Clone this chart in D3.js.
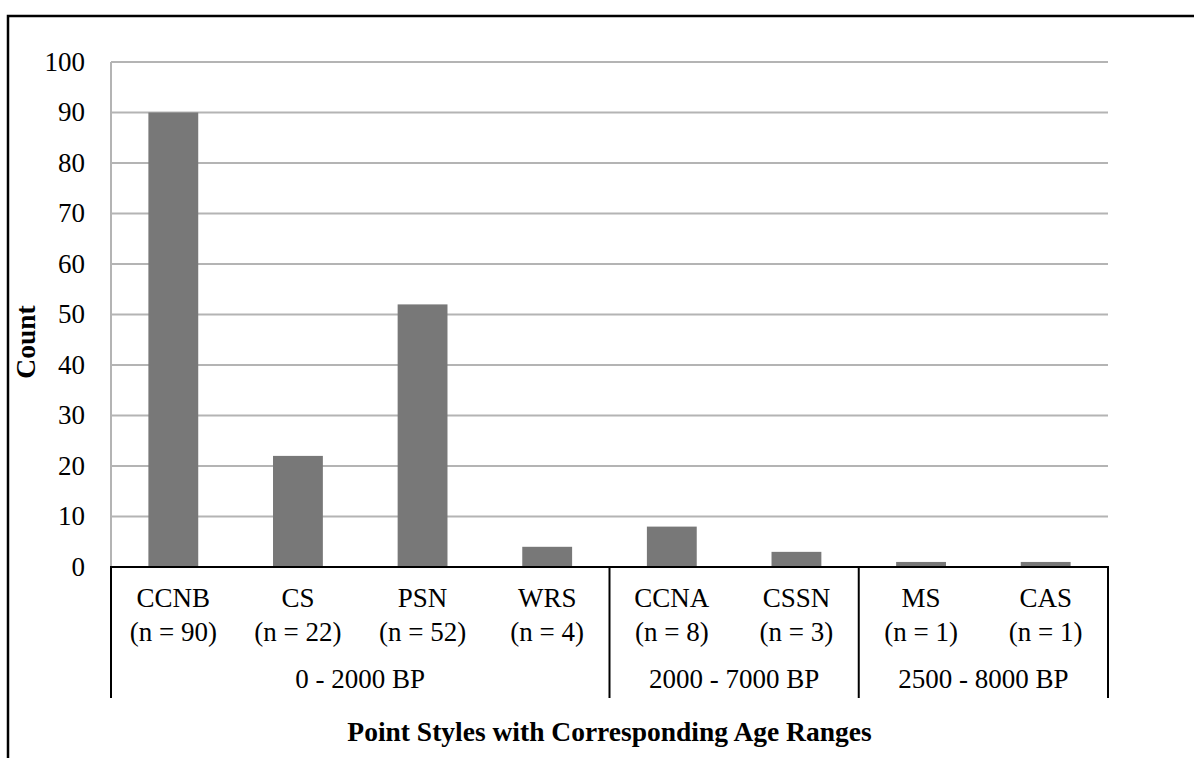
<!DOCTYPE html>
<html>
<head>
<meta charset="utf-8">
<script src="https://cdn.jsdelivr.net/npm/d3@7"></script>
<style>
  body { margin: 0; background: #fff; }
  text { font-family: 'Liberation Serif', 'Times New Roman', serif; fill: #000; }
</style>
</head>
<body>
<div id="vizcontainer"></div>
<script>
// values
const categories = ['CCNB', 'CS', 'PSN', 'WRS', 'CCNA', 'CSSN', 'MS', 'CAS'];
const counts = [90, 22, 52, 4, 8, 3, 1, 1];
const ageRanges = ['0 - 2000 BP', '2000 - 7000 BP', '2500 - 8000 BP'];
const ageOfCategory = [0, 0, 0, 0, 1, 1, 2, 2];
const yTicks = [0, 10, 20, 30, 40, 50, 60, 70, 80, 90, 100];

const
  W = 1194,
  H = 758,
  plotLeft = 111,
  plotRight = 1108,
  plotTop = 62,
  plotBottom = 567,
  axisBottom = 698,
  fontSize = 27
  ;

const svg = d3.select('#vizcontainer')
  .append('svg')
  .attr('width', W)
  .attr('height', H);

// outer frame (runs off the right and bottom edge)
svg.append('rect')
  .attr('x', 8)
  .attr('y', 16)
  .attr('width', W)
  .attr('height', H)
  .attr('fill', 'none')
  .attr('stroke', '#000')
  .attr('stroke-width', 2.5);

const x = d3.scaleBand()
  .domain(categories)
  .range([plotLeft, plotRight])
  .paddingInner(0.6)
  .paddingOuter(0.3);

const y = d3.scaleLinear()
  .domain([0, 100])
  .range([plotBottom, plotTop]);

// gridlines
svg.append('g')
  .selectAll('line')
  .data(yTicks.filter(d => d > 0))
  .join('line')
  .attr('x1', plotLeft)
  .attr('x2', plotRight)
  .attr('y1', d => y(d))
  .attr('y2', d => y(d))
  .attr('stroke', '#b4b4b4')
  .attr('stroke-width', 2);

// value axis line (grey)
svg.append('line')
  .attr('x1', plotLeft).attr('x2', plotLeft)
  .attr('y1', plotTop).attr('y2', plotBottom)
  .attr('stroke', '#b4b4b4')
  .attr('stroke-width', 2);

// y tick labels
svg.append('g')
  .selectAll('text')
  .data(yTicks)
  .join('text')
  .attr('x', 85)
  .attr('y', d => y(d))
  .attr('dy', '0.33em')
  .attr('text-anchor', 'end')
  .style('font-size', fontSize + 'px')
  .text(d => d);

// bars
svg.append('g')
  .selectAll('rect')
  .data(counts)
  .join('rect')
  .attr('x', (d, i) => x(categories[i]))
  .attr('y', d => y(d))
  .attr('width', x.bandwidth())
  .attr('height', d => y(0) - y(d))
  .attr('fill', '#787878');

// category axis
svg.append('line')
  .attr('x1', plotLeft - 1).attr('x2', plotRight + 1)
  .attr('y1', plotBottom).attr('y2', plotBottom)
  .attr('stroke', '#000')
  .attr('stroke-width', 2);

// group separators
const step = x.step();
const boundaries = [plotLeft];
ageRanges.forEach((g, gi) => {
  const last = ageOfCategory.lastIndexOf(gi);
  boundaries.push(plotLeft + step * (last + 1));
});

svg.append('g')
  .selectAll('line')
  .data(boundaries)
  .join('line')
  .attr('x1', d => d).attr('x2', d => d)
  .attr('y1', plotBottom).attr('y2', axisBottom)
  .attr('stroke', '#000')
  .attr('stroke-width', 2);

// category labels
const catG = svg.append('g')
  .selectAll('g')
  .data(categories)
  .join('g')
  .attr('transform', d => `translate(${x(d) + x.bandwidth() / 2},0)`);

catG.append('text')
  .attr('y', 607)
  .attr('text-anchor', 'middle')
  .style('font-size', fontSize + 'px')
  .text(d => d);

catG.append('text')
  .attr('y', 641)
  .attr('text-anchor', 'middle')
  .style('font-size', fontSize + 'px')
  .text((d, i) => `(n = ${counts[i]})`);

// age range labels
svg.append('g')
  .selectAll('text')
  .data(ageRanges)
  .join('text')
  .attr('x', (d, i) => (boundaries[i] + boundaries[i + 1]) / 2)
  .attr('y', 688)
  .attr('text-anchor', 'middle')
  .style('font-size', fontSize + 'px')
  .text(d => d);

// axis titles
svg.append('text')
  .attr('x', (plotLeft + plotRight) / 2)
  .attr('y', 741)
  .attr('text-anchor', 'middle')
  .style('font-size', '27.5px')
  .style('font-weight', 'bold')
  .text('Point Styles with Corresponding Age Ranges');

svg.append('text')
  .attr('transform', 'translate(35,342) rotate(-90)')
  .attr('text-anchor', 'middle')
  .style('font-size', '27.5px')
  .style('font-weight', 'bold')
  .text('Count');
</script>
</body>
</html>
